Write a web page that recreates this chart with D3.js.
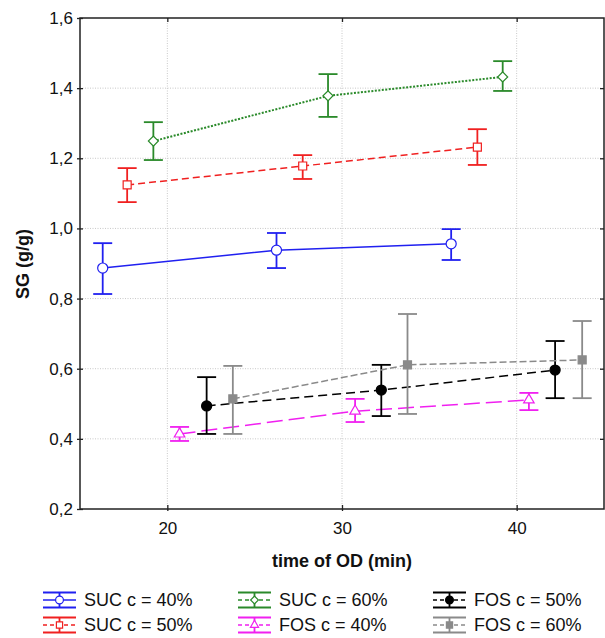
<!DOCTYPE html>
<html>
<head>
<meta charset="utf-8">
<script src="https://cdn.jsdelivr.net/npm/d3@7"></script>
<style>
  body { margin: 0; background: #fff; }
  svg { display: block; font-family: "Liberation Sans", Arial, sans-serif; }
</style>
</head>
<body>
<div id="chart"></div>
<script>
// series labels (legend order, column by column)
var seriesNames = ["SUC c = 40%", "SUC c = 50%", "SUC c = 60%", "FOS c = 40%", "FOS c = 50%", "FOS c = 60%"];

// time of OD (min), plotted with a small offset per series
var suc40Time = [16.3, 26.25, 36.25];
var suc50Time = [17.7, 27.75, 37.75];
var suc60Time = [19.2, 29.2, 39.2];
var fos40Time = [20.7, 30.75, 40.7];
var fos50Time = [22.25, 32.25, 42.2];
var fos60Time = [23.75, 33.75, 43.75];

// SG (g/g) means and error bar ends
var suc40Mean = [0.887, 0.938, 0.956], suc40Low = [0.813, 0.887, 0.910], suc40High = [0.958, 0.987, 0.998];
var suc50Mean = [1.124, 1.178, 1.232], suc50Low = [1.075, 1.141, 1.181], suc50High = [1.172, 1.209, 1.283];
var suc60Mean = [1.249, 1.378, 1.432], suc60Low = [1.195, 1.318, 1.392], suc60High = [1.303, 1.440, 1.477];
var fos40Mean = [0.414, 0.479, 0.511], fos40Low = [0.394, 0.448, 0.482], fos40High = [0.434, 0.514, 0.531];
var fos50Mean = [0.494, 0.539, 0.596], fos50Low = [0.414, 0.465, 0.516], fos50High = [0.576, 0.611, 0.679];
var fos60Mean = [0.514, 0.611, 0.625], fos60Low = [0.414, 0.471, 0.516], fos60High = [0.608, 0.756, 0.736];

var xTicks = [20, 30, 40];
var yTicks = [0.2, 0.4, 0.6, 0.8, 1.0, 1.2, 1.4, 1.6];

// styles for each series
var styles = [
  { color: "#2020f0", dash: null, width: 1.5, marker: "circle", fill: "#fff" },
  { color: "#f02020", dash: "7,4", width: 1.5, marker: "square", fill: "#fff" },
  { color: "#2a8a2a", dash: "2,1.5", width: 2, marker: "diamond", fill: "#fff" },
  { color: "#f020f0", dash: "16,6", width: 1.5, marker: "triangle", fill: "#fff" },
  { color: "#000000", dash: "9,5", width: 1.5, marker: "circle", fill: "#000" },
  { color: "#8a8a8a", dash: "7,3", width: 1.5, marker: "square", fill: "#8a8a8a" }
];

var times = [suc40Time, suc50Time, suc60Time, fos40Time, fos50Time, fos60Time];
var means = [suc40Mean, suc50Mean, suc60Mean, fos40Mean, fos50Mean, fos60Mean];
var lows = [suc40Low, suc50Low, suc60Low, fos40Low, fos50Low, fos60Low];
var highs = [suc40High, suc50High, suc60High, fos40High, fos50High, fos60High];

var series = seriesNames.map(function (name, i) {
  return {
    name: name,
    style: styles[i],
    points: times[i].map(function (t, j) {
      return { t: t, m: means[i][j], lo: lows[i][j], hi: highs[i][j] };
    })
  };
});

var W = 605, H = 638;
var plot = { left: 80, right: 604, top: 18, bottom: 509 };

var x = d3.scaleLinear().domain([15, 45]).range([plot.left, plot.right]);
var y = d3.scaleLinear().domain([0.2, 1.6]).range([plot.bottom, plot.top]);
var fmt = function (d) { return d3.format(".1f")(d).replace(".", ","); };

var svg = d3.select("#chart").append("svg")
  .attr("width", W)
  .attr("height", H);

// grid
svg.append("g").selectAll("line")
  .data(xTicks)
  .enter().append("line")
  .attr("x1", function (d) { return x(d); })
  .attr("x2", function (d) { return x(d); })
  .attr("y1", plot.top).attr("y2", plot.bottom)
  .style("stroke", "#c8c8c8").style("stroke-width", 1).style("stroke-dasharray", "1,1.5");

svg.append("g").selectAll("line")
  .data(yTicks.slice(1, -1))
  .enter().append("line")
  .attr("x1", plot.left).attr("x2", plot.right)
  .attr("y1", function (d) { return y(d); })
  .attr("y2", function (d) { return y(d); })
  .style("stroke", "#c8c8c8").style("stroke-width", 1).style("stroke-dasharray", "1,1.5");

function symbolPath(kind, k) {
  k = k || 1;
  if (kind === "circle") return d3.symbol().type(d3.symbolCircle).size(80 * k)();
  if (kind === "square") return d3.symbol().type(d3.symbolSquare).size(64 * k)();
  if (kind === "diamond") return d3.symbol().type(d3.symbolSquare).size(50 * k)();
  return d3.symbol().type(d3.symbolTriangle).size(48 * k)();
}

var line = d3.line()
  .x(function (d) { return x(d.t); })
  .y(function (d) { return y(d.m); });

var capW = 9.5;

series.forEach(function (s) {
  var g = svg.append("g");
  var st = s.style;

  g.append("path")
    .datum(s.points)
    .attr("d", line)
    .style("fill", "none")
    .style("stroke", st.color)
    .style("stroke-width", st.width)
    .style("stroke-dasharray", st.dash);

  var bars = g.selectAll("g.err")
    .data(s.points)
    .enter().append("g")
    .attr("class", "err")
    .style("stroke", st.color)
    .style("stroke-width", 1.8);

  bars.append("line")
    .attr("x1", function (d) { return x(d.t); })
    .attr("x2", function (d) { return x(d.t); })
    .attr("y1", function (d) { return y(d.lo); })
    .attr("y2", function (d) { return y(d.hi); });
  bars.append("line")
    .attr("x1", function (d) { return x(d.t) - capW; })
    .attr("x2", function (d) { return x(d.t) + capW; })
    .attr("y1", function (d) { return y(d.lo); })
    .attr("y2", function (d) { return y(d.lo); });
  bars.append("line")
    .attr("x1", function (d) { return x(d.t) - capW; })
    .attr("x2", function (d) { return x(d.t) + capW; })
    .attr("y1", function (d) { return y(d.hi); })
    .attr("y2", function (d) { return y(d.hi); });

  g.selectAll("path.mark")
    .data(s.points)
    .enter().append("path")
    .attr("class", "mark")
    .attr("d", symbolPath(st.marker))
    .attr("transform", function (d) {
      return "translate(" + x(d.t) + "," + y(d.m) + ")" + (st.marker === "diamond" ? " rotate(45)" : "");
    })
    .style("fill", st.fill)
    .style("stroke", st.color)
    .style("stroke-width", 1.2);
});

// frame
svg.append("rect")
  .attr("x", plot.left).attr("y", plot.top)
  .attr("width", plot.right - plot.left).attr("height", plot.bottom - plot.top)
  .style("fill", "none").style("stroke", "#222").style("stroke-width", 1.5);

// axes
var xAxis = svg.append("g")
  .attr("transform", "translate(0," + plot.bottom + ")")
  .call(d3.axisBottom(x).tickValues(xTicks).tickSize(0).tickPadding(13).tickFormat(d3.format("d")));
xAxis.select(".domain").remove();
xAxis.selectAll("text").style("font-size", "17px").style("fill", "#111");
xAxis.selectAll("g.tick").append("line").attr("y1", -4).attr("y2", 2).style("stroke", "#222").style("stroke-width", 1.3);

var yAxis = svg.append("g")
  .attr("transform", "translate(" + plot.left + ",0)")
  .call(d3.axisLeft(y).tickValues(yTicks).tickSize(0).tickPadding(7).tickFormat(fmt));
yAxis.select(".domain").remove();
yAxis.selectAll("text").style("font-size", "17px").style("fill", "#111");
yAxis.selectAll("g.tick").append("line").attr("x1", -3).attr("x2", 3).style("stroke", "#222").style("stroke-width", 1.3);

// inner ticks on top and right
var xTop = svg.append("g")
  .attr("transform", "translate(0," + plot.top + ")")
  .call(d3.axisTop(x).tickValues(xTicks).tickSize(-4).tickFormat(""));
xTop.select(".domain").remove();
xTop.selectAll("line").style("stroke", "#222").style("stroke-width", 1.3);

var yRight = svg.append("g")
  .attr("transform", "translate(" + plot.right + ",0)")
  .call(d3.axisRight(y).tickValues(yTicks.slice(1, -1)).tickSize(-4).tickFormat(""));
yRight.select(".domain").remove();
yRight.selectAll("line").style("stroke", "#222").style("stroke-width", 1.3);

// axis titles
svg.append("text")
  .attr("x", (plot.left + plot.right) / 2)
  .attr("y", 567)
  .attr("text-anchor", "middle")
  .style("font-size", "18px").style("font-weight", "bold").style("fill", "#111")
  .text("time of OD (min)");

svg.append("text")
  .attr("transform", "translate(29,264) rotate(-90)")
  .attr("text-anchor", "middle")
  .style("font-size", "18px").style("font-weight", "bold").style("fill", "#111")
  .text("SG (g/g)");

// legend
var legX = [43, 238, 433], legY = [600, 625], symW = 33;
var leg = svg.append("g").selectAll("g")
  .data(series)
  .enter().append("g")
  .attr("transform", function (d, i) {
    return "translate(" + legX[Math.floor(i / 2)] + "," + legY[i % 2] + ")";
  });

leg.append("line")
  .attr("x1", 0).attr("x2", symW).attr("y1", 0).attr("y2", 0)
  .style("stroke", function (d) { return d.style.color; })
  .style("stroke-width", 1.5)
  .style("stroke-dasharray", function (d) { return d.style.dash ? "4,3" : null; });
leg.append("line")
  .attr("x1", 0).attr("x2", symW).attr("y1", -7.5).attr("y2", -7.5)
  .style("stroke", function (d) { return d.style.color; }).style("stroke-width", 1.8);
leg.append("line")
  .attr("x1", 0).attr("x2", symW).attr("y1", 7.5).attr("y2", 7.5)
  .style("stroke", function (d) { return d.style.color; }).style("stroke-width", 1.8);
leg.append("line")
  .attr("x1", symW / 2).attr("x2", symW / 2).attr("y1", -7.5).attr("y2", 7.5)
  .style("stroke", function (d) { return d.style.color; }).style("stroke-width", 1.8);
leg.append("path")
  .attr("d", function (d) { return symbolPath(d.style.marker, 0.6); })
  .attr("transform", function (d) {
    return "translate(" + symW / 2 + ",0)" + (d.style.marker === "diamond" ? " rotate(45)" : "");
  })
  .style("fill", function (d) { return d.style.fill; })
  .style("stroke", function (d) { return d.style.color; })
  .style("stroke-width", 1.2);
leg.append("text")
  .attr("x", 41)
  .attr("y", 6)
  .style("font-size", "18px").style("fill", "#111")
  .text(function (d) { return d.name; });
</script>
</body>
</html>
